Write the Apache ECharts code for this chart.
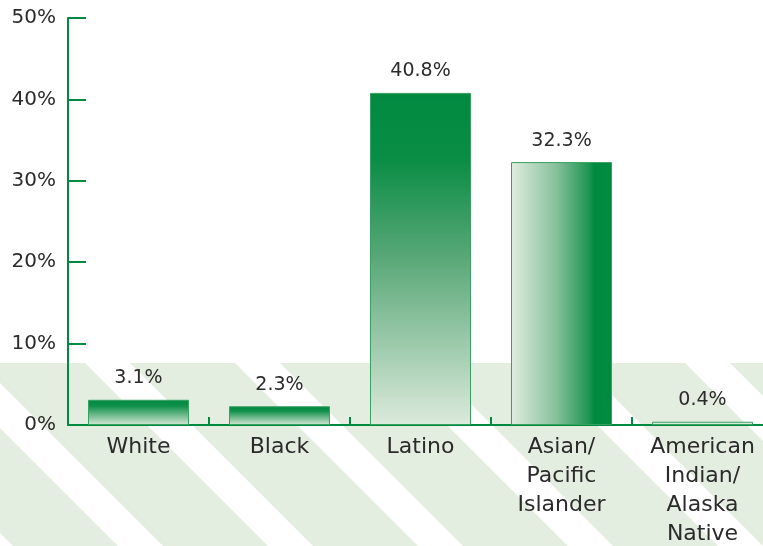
<!DOCTYPE html>
<html>
<head>
<meta charset="utf-8">
<script src="https://cdn.jsdelivr.net/npm/echarts@6/dist/echarts.min.js"></script>
<style>html,body{margin:0;padding:0;background:#fff;}#c{width:763px;height:546px;}</style>
</head>
<body>
<div id="c"></div>
<script>
var categories = ['White', 'Black', 'Latino', 'Asian/\nPacific\nIslander', 'American\nIndian/\nAlaska\nNative'];
var values = [3.1, 2.3, 40.8, 32.3, 0.4];
var yTicks = [0, 10, 20, 30, 40, 50];

var GREEN = '#008a40';
var FONT = 'DejaVu Sans';

function vGrad(stops) {
  return new echarts.graphic.LinearGradient(0, 0, 0, 1, stops);
}
var barFills = [
  vGrad([{offset: 0, color: '#008a40'}, {offset: 0.25, color: '#10904a'}, {offset: 1, color: '#d6e8d6'}]),
  vGrad([{offset: 0, color: '#008a40'}, {offset: 0.25, color: '#10904a'}, {offset: 1, color: '#d6e8d6'}]),
  vGrad([{offset: 0, color: '#008a40'}, {offset: 0.2, color: '#0a8d45'}, {offset: 0.5, color: '#5aa878'}, {offset: 1, color: '#dceadc'}]),
  new echarts.graphic.LinearGradient(0, 0, 1, 0, [{offset: 0, color: '#e0ede0'}, {offset: 0.45, color: '#86c09a'}, {offset: 0.78, color: '#1a9450'}, {offset: 0.82, color: '#008a40'}, {offset: 1, color: '#008a40'}]),
  '#d8ead8'
];

// decorative background stripes
var stripes = [];
var sTop = 363, sBottom = 546, sH = sBottom - sTop, sPeriod = 150, sBand = 105;
for (var x0 = -320; x0 < 800; x0 += sPeriod) {
  stripes.push({
    type: 'polygon',
    silent: true,
    z: -10,
    shape: {points: [[x0, sTop], [x0 + sBand, sTop], [x0 + sBand + sH, sBottom], [x0 + sH, sBottom]]},
    style: {fill: '#e3ede0'}
  });
}

var chart = echarts.init(document.getElementById('c'));
chart.setOption({
  backgroundColor: '#ffffff',
  animation: false,
  graphic: stripes,
  grid: {left: 68, top: 18, height: 407, width: 705, containLabel: false, outerBoundsMode: 'none'},
  xAxis: {
    type: 'category',
    data: categories,
    boundaryGap: true,
    axisLine: {lineStyle: {color: GREEN, width: 2}},
    axisTick: {show: true, inside: true, length: 8, interval: 0, lineStyle: {color: GREEN, width: 2}},
    axisLabel: {interval: 0, margin: 8, color: '#2b2b2b', fontFamily: FONT, fontSize: 22, lineHeight: 29}
  },
  yAxis: {
    type: 'value',
    min: yTicks[0],
    max: yTicks[yTicks.length - 1],
    interval: 10,
    splitLine: {show: false},
    axisLine: {show: true, lineStyle: {color: GREEN, width: 2}},
    axisTick: {show: true, inside: true, length: 18, lineStyle: {color: GREEN, width: 2}},
    axisLabel: {margin: 12, color: '#2b2b2b', fontFamily: FONT, fontSize: 20, formatter: '{value}%'}
  },
  series: [{
    type: 'bar',
    barWidth: 101,
    data: values.map(function (v, i) {
      return {value: v, itemStyle: {color: barFills[i], borderColor: '#3a9f63', borderWidth: 1}};
    }),
    label: {
      show: true,
      position: 'top',
      distance: 12,
      color: '#2b2b2b',
      fontFamily: FONT,
      fontSize: 19,
      formatter: function (p) { return p.value.toFixed(1) + '%'; }
    }
  }]
});
</script>
</body>
</html>
